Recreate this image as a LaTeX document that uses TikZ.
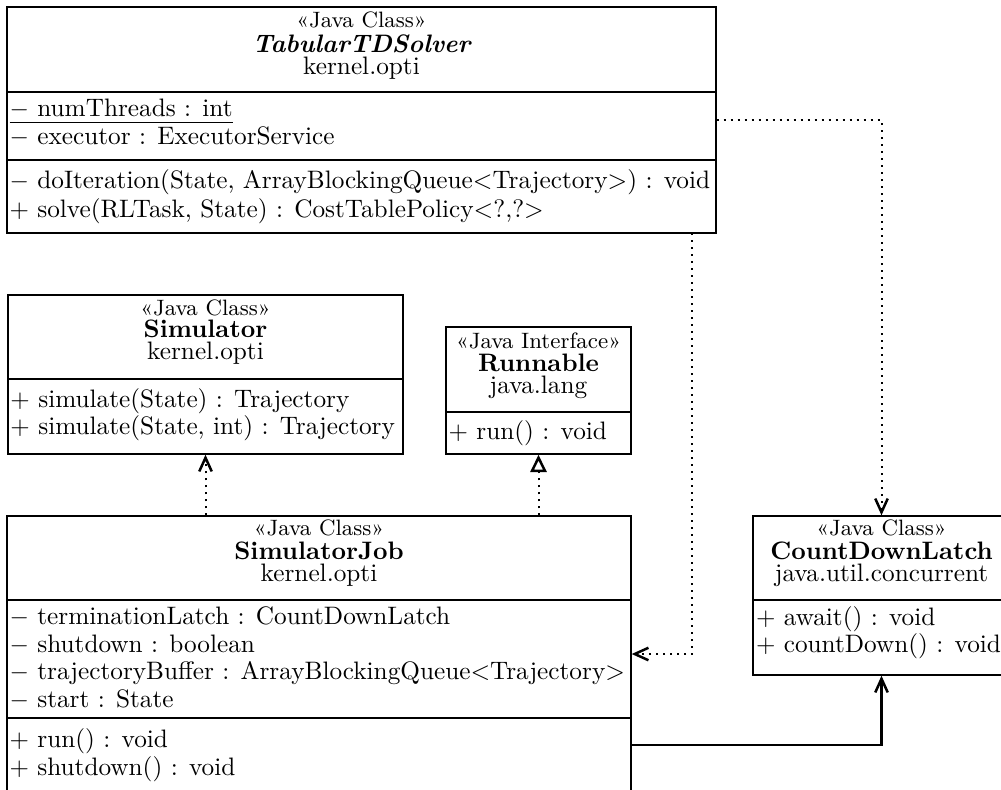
\documentclass[tikz,border=0pt]{standalone}
\usepackage{fontspec}
\usetikzlibrary{arrows.meta,fit}
\tikzset{
  umltext/.style={inner sep=0pt, text height=6.8pt, text depth=1.9pt, font=\fontsize{10.1}{12}\selectfont},
  stereotxt/.style={inner sep=0pt, text height=6pt, text depth=1.7pt, font=\fontsize{8.9}{10}\selectfont},
  nametxt/.style={umltext, font=\fontsize{10.1}{12}\selectfont\bfseries},
  membertxt/.style={umltext, anchor=west},
  classbox/.style={draw, line width=0.55pt, inner sep=0pt, fit={#1}},
  sepline/.style={line width=0.55pt},
  depline/.style={line width=0.8pt, dash pattern=on 0.8pt off 2pt,
    -{Straight Barb[length=5.5pt,width=5pt,line width=1pt]}},
  realline/.style={line width=0.8pt, dash pattern=on 0.8pt off 2pt,
    -{Triangle[open,length=7pt,width=6.5pt,line width=1pt]}},
  assocline/.style={line width=1pt,
    -{Straight Barb[length=5.5pt,width=5pt,line width=1pt]}},
}
\begin{document}
\begin{tikzpicture}[x=0.4pt,y=-0.4pt]
\useasboundingbox (0,0) rectangle (1001,789);
\clip (0,0) rectangle (1001,789);

% ---------- class boxes ----------
\node[classbox={(7,7) (716,233)}] (tds) {};
\node[classbox={(8,295) (403,454)}] (sim) {};
\node[classbox={(446,327) (631,454)}] (run) {};
\node[classbox={(7,516) (631,793)}] (job) {};
\node[classbox={(753,516) (1010,675)}] (cdl) {};

% compartment separators
\draw[sepline] (tds.west |- 0,92) -- (tds.east |- 0,92);
\draw[sepline] (tds.west |- 0,160) -- (tds.east |- 0,160);
\draw[sepline] (sim.west |- 0,379) -- (sim.east |- 0,379);
\draw[sepline] (run.west |- 0,412) -- (run.east |- 0,412);
\draw[sepline] (job.west |- 0,600) -- (job.east |- 0,600);
\draw[sepline] (job.west |- 0,718) -- (job.east |- 0,718);
\draw[sepline] (cdl.west |- 0,600) -- (cdl.east |- 0,600);

% ---------- TabularTDSolver ----------
\node[stereotxt] (tdsS) at (361.5,22.5) {«Java Class»};
\node[nametxt] (tdsN) at (361.5,46) {\itshape TabularTDSolver};
\node[umltext] (tdsP) at (361.5,68.5) {kernel.opti};
\node[membertxt] (tdsA1) at (9,110.5) {\underline{$-$ numThreads : int}};
\node[membertxt] (tdsA2) at (9,138) {$-$ executor : ExecutorService};
\node[membertxt] (tdsM1) at (9,182.5) {$-$ doIteration(State, ArrayBlockingQueue<Trajectory>) : void};
\node[membertxt] (tdsM2) at (9,211) {$+$ solve(RLTask, State) : CostTablePolicy<?,?>};

% ---------- Simulator ----------
\node[stereotxt] (simS) at (205.5,310.5) {«Java Class»};
\node[nametxt] (simN) at (205.5,331) {Simulator};
\node[umltext] (simP) at (205.5,353) {kernel.opti};
\node[membertxt] (simM1) at (10,401) {$+$ simulate(State) : Trajectory};
\node[membertxt] (simM2) at (10,428.5) {$+$ simulate(State, int) : Trajectory};

% ---------- Runnable ----------
\node[stereotxt] (runS) at (538.5,343.5) {«Java Interface»};
\node[nametxt] (runN) at (538.5,365) {Runnable};
\node[umltext] (runP) at (538.5,387.5) {java.lang};
\node[membertxt] (runM1) at (448,433.5) {$+$ run() : void};

% ---------- SimulatorJob ----------
\node[stereotxt] (jobS) at (319,530.5) {«Java Class»};
\node[nametxt] (jobN) at (319,553) {SimulatorJob};
\node[umltext] (jobP) at (319,575.5) {kernel.opti};
\node[membertxt] (jobA1) at (9,618.5) {$-$ terminationLatch : CountDownLatch};
\node[membertxt] (jobA2) at (9,646) {$-$ shutdown : boolean};
\node[membertxt] (jobA3) at (9,673.5) {$-$ trajectoryBuffer : ArrayBlockingQueue<Trajectory>};
\node[membertxt] (jobA4) at (9,701) {$-$ start : State};
\node[membertxt] (jobM1) at (9,741.5) {$+$ run() : void};
\node[membertxt] (jobM2) at (9,769.5) {$+$ shutdown() : void};

% ---------- CountDownLatch ----------
\node[stereotxt] (cdlS) at (881.5,530.5) {«Java Class»};
\node[nametxt] (cdlN) at (881.5,553) {CountDownLatch};
\node[umltext] (cdlP) at (881.5,575.5) {java.util.concurrent};
\node[membertxt] (cdlM1) at (755.5,619) {$+$ await() : void};
\node[membertxt] (cdlM2) at (755.5,646.5) {$+$ countDown() : void};

% ---------- relations ----------
\coordinate (tdsLow) at (692,233);
\coordinate (jobMid) at (631,745);
\draw[depline] (tds.east) -| (cdl.north);
\draw[depline] (tdsLow) |- (job.east |- 0,654);
\draw[depline] (job.north -| sim.south) -- (sim.south);
\draw[realline] (job.north -| run.south) -- (run.south);
\draw[assocline] (jobMid) -| (cdl.south);
\end{tikzpicture}
\end{document}
